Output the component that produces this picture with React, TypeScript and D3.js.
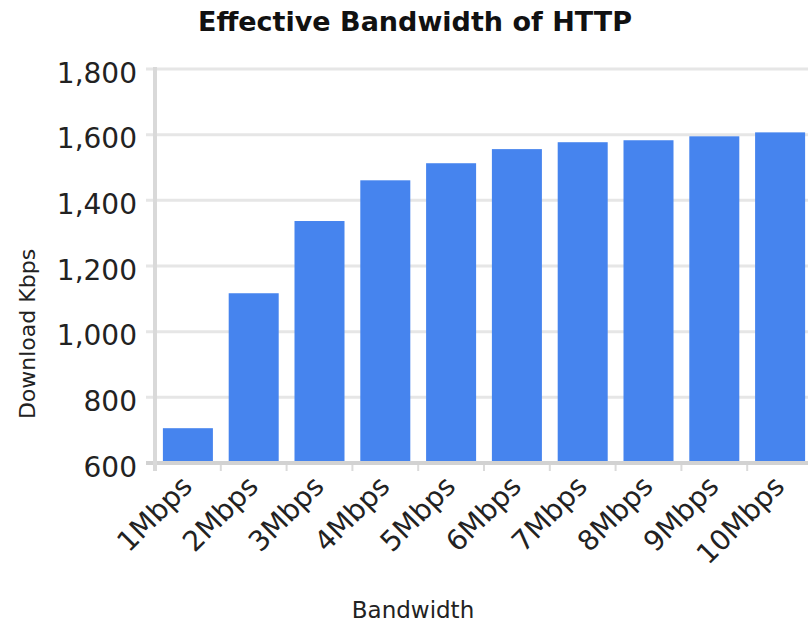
import React, { useEffect, useRef } from 'react';
import * as d3 from 'd3';

const categories = ['1Mbps', '2Mbps', '3Mbps', '4Mbps', '5Mbps', '6Mbps', '7Mbps', '8Mbps', '9Mbps', '10Mbps'];
const downloadKbps = [706, 1117, 1337, 1461, 1513, 1556, 1577, 1583, 1595, 1607];
const yTicks = [600, 800, 1000, 1200, 1400, 1600, 1800];

const W = 808;
const H = 623;
const FONT = '"DejaVu Sans", Verdana, sans-serif';

const App: React.FC = () => {
  const svgRef = useRef<SVGSVGElement>(null);

  useEffect(() => {
    if (!svgRef.current) return;
    const svg = d3.select(svgRef.current);
    svg.selectAll('*').remove();

    const left = 155, right = 813, top = 69, bottom = 463;

    const x = d3.scaleBand<string>()
      .domain(categories)
      .range([left, right])
      .paddingInner(0.24)
      .paddingOuter(0.12);

    const y = d3.scaleLinear()
      .domain([600, 1800])
      .range([bottom, top]);

    const fmt = d3.format(',');

    // gridlines
    svg.append('g')
      .selectAll('line')
      .data(yTicks.filter(t => t !== 600))
      .join('line')
      .attr('x1', left - 9)
      .attr('x2', W)
      .attr('y1', d => y(d))
      .attr('y2', d => y(d))
      .attr('stroke', '#e6e6e6')
      .attr('stroke-width', 3);

    // y tick labels
    svg.append('g')
      .selectAll('text')
      .data(yTicks)
      .join('text')
      .attr('x', 137)
      .attr('y', d => y(d) + 13.5)
      .attr('text-anchor', 'end')
      .attr('font-family', FONT)
      .attr('font-size', 28)
      .attr('fill', '#222')
      .text(d => fmt(d));

    // bars
    svg.append('g')
      .selectAll('rect')
      .data(downloadKbps)
      .join('rect')
      .attr('x', (_, i) => x(categories[i])!)
      .attr('width', x.bandwidth())
      .attr('y', d => y(d))
      .attr('height', d => y(600) - y(d))
      .attr('fill', '#4684ee');

    // category boundary ticks
    const step = x.step();
    svg.append('g')
      .selectAll('line')
      .data(d3.range(categories.length + 1))
      .join('line')
      .attr('x1', i => left + i * step)
      .attr('x2', i => left + i * step)
      .attr('y1', bottom)
      .attr('y2', bottom + 8)
      .attr('stroke', '#dadada')
      .attr('stroke-width', 2);

    // axes lines
    svg.append('line')
      .attr('x1', left - 9).attr('x2', W)
      .attr('y1', bottom).attr('y2', bottom)
      .attr('stroke', '#d2d2d2').attr('stroke-width', 4);
    svg.append('line')
      .attr('x1', left).attr('x2', left)
      .attr('y1', top - 2).attr('y2', bottom + 8)
      .attr('stroke', '#d9d9d9').attr('stroke-width', 4);

    // x tick labels
    svg.append('g')
      .selectAll('text')
      .data(categories)
      .join('text')
      .attr('transform', d => `translate(${x(d)! + x.bandwidth() / 2 + 6},${488}) rotate(-45)`)
      .attr('text-anchor', 'end')
      .attr('font-family', FONT)
      .attr('font-size', 28)
      .attr('fill', '#222')
      .text(d => d);

    // title
    svg.append('text')
      .attr('x', 415)
      .attr('y', 31)
      .attr('text-anchor', 'middle')
      .attr('font-family', FONT)
      .attr('font-weight', 'bold')
      .attr('font-size', 27)
      .attr('fill', '#111')
      .text('Effective Bandwidth of HTTP');

    // axis titles
    svg.append('text')
      .attr('x', 413)
      .attr('y', 618)
      .attr('text-anchor', 'middle')
      .attr('font-family', FONT)
      .attr('font-size', 23)
      .attr('fill', '#222')
      .text('Bandwidth');

    svg.append('text')
      .attr('transform', `translate(35,334) rotate(-90)`)
      .attr('text-anchor', 'middle')
      .attr('font-family', FONT)
      .attr('font-size', 22)
      .attr('fill', '#222')
      .text('Download Kbps');
  }, []);

  return (
    <svg
      ref={svgRef}
      width={W}
      height={H}
      style={{ position: 'absolute', left: 0, top: 0, background: '#fff' }}
    />
  );
};

export default App;
